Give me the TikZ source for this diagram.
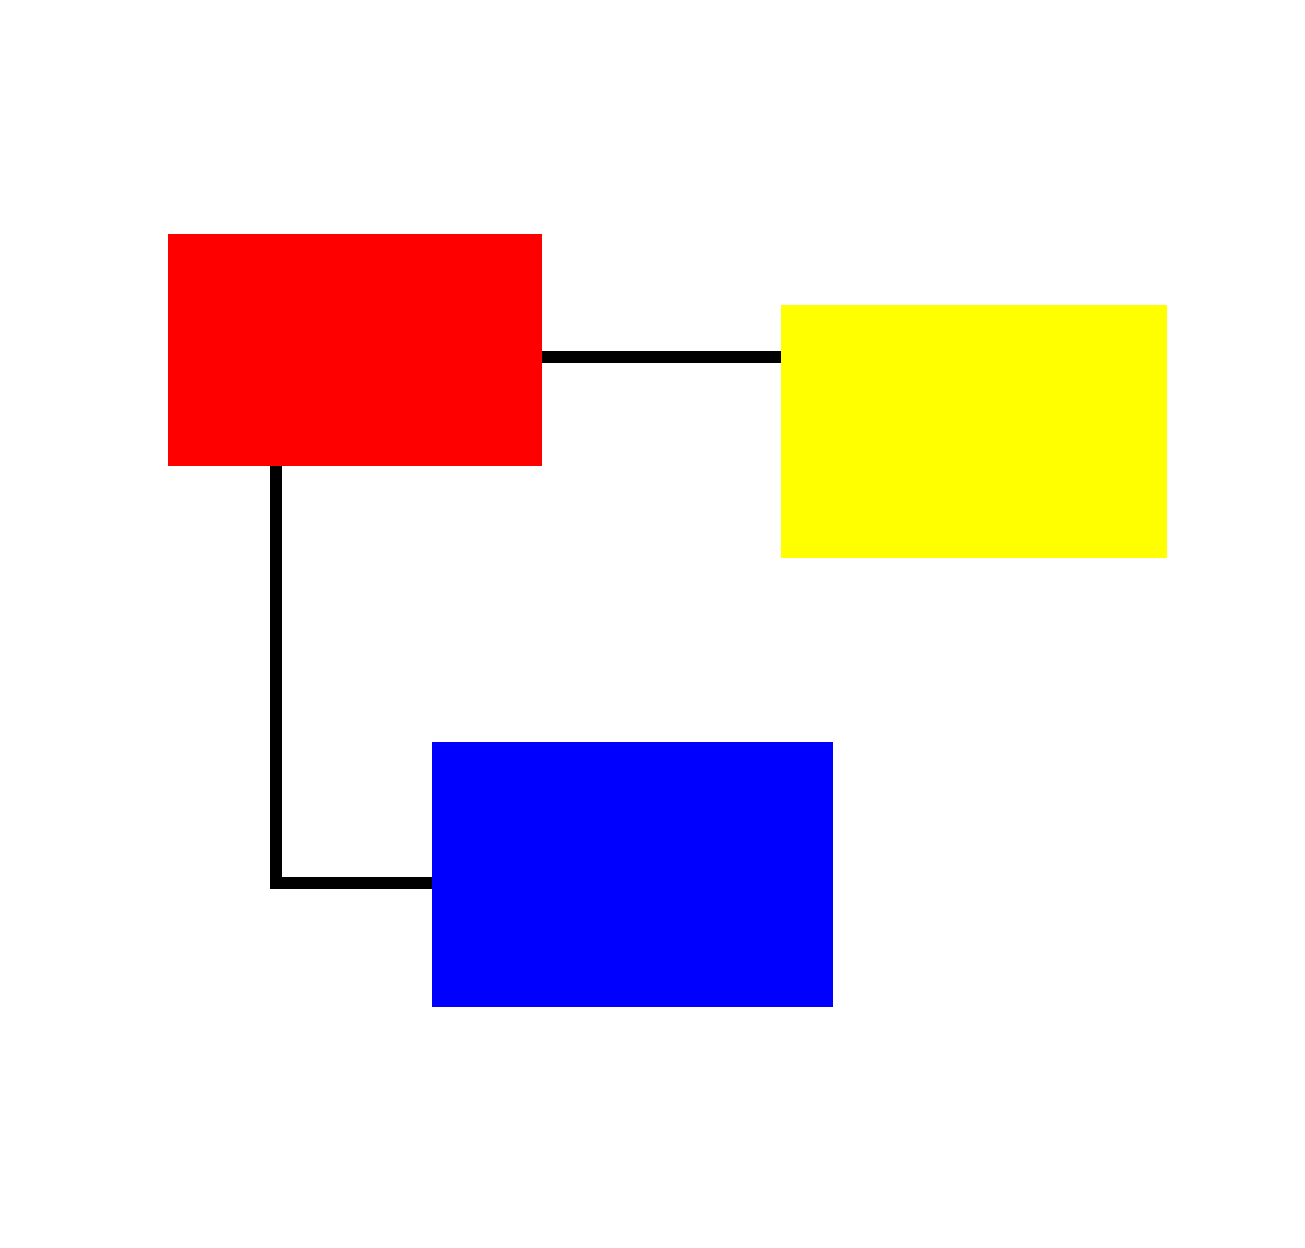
\documentclass[tikz,border=0pt]{standalone}
\definecolor{pureyellow}{RGB}{255,255,0}
\definecolor{purered}{RGB}{255,0,0}
\definecolor{pureblue}{RGB}{0,0,255}
\begin{document}
\begin{tikzpicture}[x=0.01cm,y=-0.01cm,
  boxst/.style={draw=none,inner sep=0pt,outer sep=0pt,rectangle},
  conn/.style={line width=0.12cm,black}]
\useasboundingbox[fill=white] (0,0) rectangle (1305,1248);
\node[boxst,fill=purered,minimum width=3.74cm,minimum height=2.32cm] (red) at (355,350) {};
\node[boxst,fill=pureyellow,minimum width=3.86cm,minimum height=2.53cm] (yellow) at (974,431.5) {};
\node[boxst,fill=pureblue,minimum width=4.01cm,minimum height=2.65cm] (blue) at (632.5,874.5) {};
\coordinate (corner) at (276,883);
\draw[conn] (red.east |- 0,357) -- (yellow.west |- 0,357);
\draw[conn] (red.south -| corner) -- (corner) -- (blue.west |- corner);
\end{tikzpicture}
\end{document}
